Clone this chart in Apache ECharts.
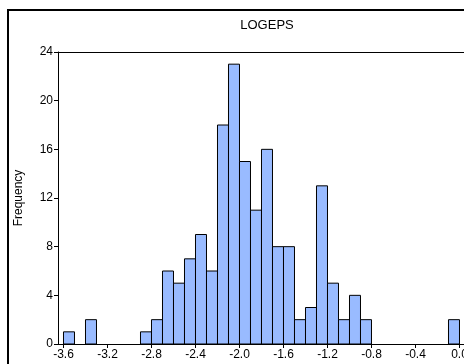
<!DOCTYPE html>
<html>
<head>
<meta charset="utf-8">
<script src="https://cdn.jsdelivr.net/npm/echarts@6/dist/echarts.min.js"></script>
<style>
  html, body { margin: 0; padding: 0; background: #fff; overflow: hidden; }
  #chart { width: 464px; height: 364px; }
</style>
</head>
<body>
<div id="chart"></div>
<script>
// Histogram of LOGEPS, bins of width 0.1 starting at -3.6
const binStarts = [-3.6, -3.5, -3.4, -3.3, -3.2, -3.1, -3.0, -2.9, -2.8, -2.7,
                   -2.6, -2.5, -2.4, -2.3, -2.2, -2.1, -2.0, -1.9, -1.8, -1.7,
                   -1.6, -1.5, -1.4, -1.3, -1.2, -1.1, -1.0, -0.9, -0.8, -0.7,
                   -0.6, -0.5, -0.4, -0.3, -0.2, -0.1];
const counts = [1, 0, 2, 0, 0, 0, 0, 1, 2, 6,
                5, 7, 9, 6, 18, 23, 15, 11, 16, 8,
                8, 2, 3, 13, 5, 2, 4, 2, 0, 0,
                0, 0, 0, 0, 0, 2];
const binWidth = 0.1;
const xTicks = [-3.6, -3.2, -2.8, -2.4, -2.0, -1.6, -1.2, -0.8, -0.4, 0.0];
const xMin = -3.65, xMax = 0.041;

const bins = binStarts.map((s, i) => [s, +(s + binWidth).toFixed(2), counts[i]]);

const font = 'Liberation Sans, Arial, sans-serif';
const chart = echarts.init(document.getElementById('chart'), null, { renderer: 'canvas' });

chart.setOption({
  animation: false,
  backgroundColor: '#fff',
  title: {
    text: 'LOGEPS',
    left: 262, top: 14, textAlign: 'center',
    textStyle: { fontFamily: font, fontSize: 13, fontWeight: 'normal', color: '#000' }
  },
  grid: {
    left: 58, top: 52, bottom: 20, right: 0,
    outerBoundsMode: 'none', containLabel: false, show: false
  },
  xAxis: [{
    type: 'value',
    min: xMin, max: xMax,
    splitLine: { show: false },
    axisLine: { show: true, onZero: false, lineStyle: { color: '#000', width: 1 } },
    axisTick: { show: true, length: 4, lineStyle: { color: '#000' }, customValues: xTicks },
    axisLabel: {
      customValues: xTicks,
      formatter: v => v.toFixed(1),
      fontFamily: font, fontSize: 12, color: '#000', margin: 5
    }
  }, {
    // top frame line of the plot area
    type: 'value', position: 'top',
    min: xMin, max: xMax,
    splitLine: { show: false },
    axisLine: { show: true, onZero: false, lineStyle: { color: '#000', width: 1 } },
    axisTick: { show: false },
    axisLabel: { show: false }
  }],
  yAxis: {
    type: 'value',
    position: 'left',
    min: 0, max: 24, interval: 4,
    name: 'Frequency', nameLocation: 'middle', nameGap: 33,
    nameTextStyle: { fontFamily: font, fontSize: 12, color: '#000' },
    splitLine: { show: false },
    axisLine: { show: true, onZero: false, lineStyle: { color: '#000', width: 1 } },
    axisTick: { show: true, length: 4, lineStyle: { color: '#000' } },
    axisLabel: { fontFamily: font, fontSize: 12, color: '#000', margin: 5 }
  },
  series: [{
    type: 'custom',
    data: bins,
    encode: { x: [0, 1], y: 2 },
    renderItem: function (params, api) {
      const h = api.value(2);
      if (!h) return null;
      const p0 = api.coord([api.value(0), 0]);
      const p1 = api.coord([api.value(1), h]);
      return {
        type: 'rect',
        shape: { x: p0[0], y: p1[1], width: p1[0] - p0[0], height: p0[1] - p1[1] },
        style: { fill: '#99bbff', stroke: '#000', lineWidth: 1 }
      };
    }
  }],
  graphic: [{
    // outer frame: left and top edges
    type: 'polyline',
    shape: { points: [[8, 380], [8, 10], [480, 10]] },
    style: { fill: null, stroke: '#000', lineWidth: 2 },
    silent: true
  }]
});
</script>
</body>
</html>
